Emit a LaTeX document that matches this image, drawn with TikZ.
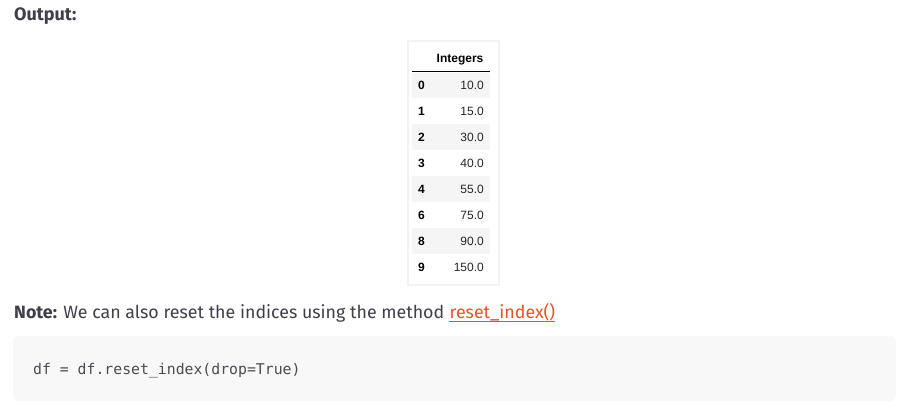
\documentclass[tikz,border=0pt]{standalone}
\usepackage{fontspec}
\setmainfont{Fira Sans}
\newfontfamily\tabfont{Liberation Sans}
\newfontfamily\codefont{DejaVu Sans Mono}
\definecolor{txt}{HTML}{3F3F4A}
\definecolor{linkc}{HTML}{E2552D}
\definecolor{stripe}{HTML}{F5F5F5}
\definecolor{codebg}{HTML}{F8F8F9}
\definecolor{codetxt}{HTML}{4A4A55}
\definecolor{tabborder}{HTML}{F2F2F2}
\begin{document}
\begin{tikzpicture}[x=1pt,y=-1pt,
  heading/.style={anchor=base west,inner sep=0pt,font=\fontsize{18}{21}\selectfont\bfseries,text=txt},
  idx/.style={anchor=base west,inner sep=0pt,font=\tabfont\fontsize{12}{14}\selectfont\bfseries,text=black},
  val/.style={anchor=base east,inner sep=0pt,font=\tabfont\fontsize{12}{14}\selectfont,text=black!85},
  stripebox/.style={fill=stripe,draw=none},
  notetext/.style={anchor=base west,inner sep=0pt,font=\fontsize{17.8}{21}\selectfont,text=txt},
  codetext/.style={anchor=base west,inner sep=0pt,font=\codefont\fontsize{14.8}{17}\selectfont,text=codetxt}]
\useasboundingbox[fill=white] (0,0) rectangle (920,411);
% Output heading
\node[heading] (out) at (14,21) {Output:};
% table frame
\draw[tabborder,fill=white,line width=1.2pt] (408,41) rectangle (499,285);
\fill[stripebox] (412,73) rectangle (490,98);
\fill[stripebox] (412,124) rectangle (490,150);
\fill[stripebox] (412,176) rectangle (490,202);
\fill[stripebox] (412,228) rectangle (490,254);
\node[anchor=base,inner sep=0pt,font=\tabfont\fontsize{12}{14}\selectfont\bfseries] (hdr) at (460,63) {Integers};
\draw[black,line width=1pt] (412,72) -- (490,72);
\foreach \i/\v [count=\k from 0] in {0/10.0,1/15.0,2/30.0,3/40.0,4/55.0,6/75.0,8/90.0,9/150.0}{
  \node[idx] (i\k) at (418,{89.5+26*\k}) {\i};
  \node[val] (v\k) at (484,{89.5+26*\k}) {\v};
}
% note
\node[notetext] (note) at (14,318) {\textbf{Note:} We can also reset the indices using the method};
\node[notetext,text=linkc] (link) at ([xshift=5pt]note.base east) {reset\_index()};
\draw[linkc,line width=0.8pt] ([yshift=-3pt]link.base west) -- ([yshift=-3pt]link.base east);
% code box
\fill[codebg,rounded corners=6pt] (13,336) rectangle (896,401);
\node[codetext] (code) at (33,374) {df = df.reset\_index(drop=True)};
\end{tikzpicture}
\end{document}
